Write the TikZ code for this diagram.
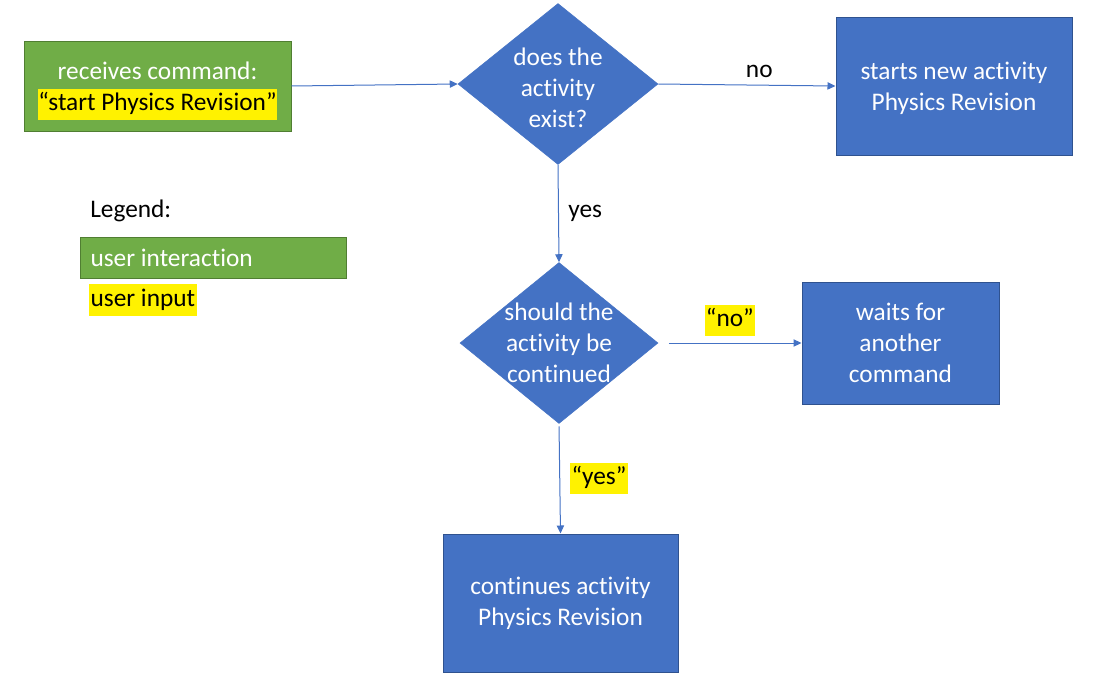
\documentclass[tikz,border=0pt]{standalone}
\usepackage{fontspec}
\setmainfont{Carlito}[Ligatures=NoCommon]
\usetikzlibrary{shapes.geometric,arrows.meta}
\definecolor{actblue}{HTML}{4472C4}
\definecolor{actblueline}{HTML}{2F528F}
\definecolor{usergreen}{HTML}{70AD47}
\definecolor{usergreenline}{HTML}{507E32}
\newcommand{\hl}[1]{{\setlength{\fboxsep}{0pt}\colorbox{yellow}{\color{black}\strut #1}}}
\tikzset{
  act/.style={draw=actblueline, fill=actblue, text=white, align=center, line width=0.75pt},
  user/.style={draw=usergreenline, fill=usergreen, text=white, align=center, line width=0.75pt},
  decision/.style={diamond, draw=actblue, fill=actblue, inner sep=0pt},
  dtext/.style={text=white, align=center},
  tag/.style={fill=yellow, text=black, inner sep=1pt, text height=15.5pt, text depth=6pt},
  flow/.style={draw=actblue, line width=0.75pt, -{Triangle[length=6pt,width=5.5pt]}}
}
\begin{document}
\begin{tikzpicture}[x=0.75pt, y=-0.75pt, font=\fontsize{19pt}{23.25pt}\selectfont]
  \useasboundingbox (0,0) rectangle (1114,689);

  \node at (157.5,86) [user, minimum width=200.25pt, minimum height=67.5pt,
    label={[text=white, align=center, yshift=-4pt]center:{receives command:\\\hl{“start Physics Revision”}}}] (cmd) {};
  \node at (558,84) [decision, minimum width=150pt, minimum height=120.75pt,
    label={[dtext, yshift=-3pt]center:{does the\\activity\\exist?}}] (exist) {};
  \node at (954,86) [act, minimum width=177pt, minimum height=103.5pt,
    label={[text=white, align=center, yshift=-2pt]center:{starts new activity\\Physics Revision}}] (start) {};

  \node at (559,343) [decision, minimum width=148.5pt, minimum height=120.75pt,
    label={[dtext]center:{should the\\activity be\\continued}}] (cont) {};
  \node at (900.5,343) [act, minimum width=147.75pt, minimum height=91.5pt] (wait) {waits for\\another\\command};
  \node at (560.5,603) [act, minimum width=176.25pt, minimum height=103.5pt] (goon) {continues activity\\Physics Revision};

  % legend
  \node at (90,211) [anchor=west, inner sep=0pt] (legend) {Legend:};
  \node at (80,237) [user, anchor=north west, align=flush left, text width=184.5pt, inner xsep=7.5pt, minimum height=30.75pt] (leguser) {user interaction};
  \node at (89,300) [tag, anchor=west] (leginput) {user input};

  \draw[flow] (cmd.east) -- (exist.west);
  \draw[flow] (exist.east) -- node[pos=0.57, above, inner sep=5pt] {no} (start.west);
  \draw[flow] (exist.south) -- node[right, inner sep=7pt] {yes} (cont.north);
  \draw[flow, shorten <=8pt] (cont.east) -- node[tag, above=5pt] {“no”} (wait.west);
  \draw[flow, shorten <=2pt] (cont.south) -- node[tag, right=7.5pt] {“yes”} (goon.north);
\end{tikzpicture}
\end{document}
